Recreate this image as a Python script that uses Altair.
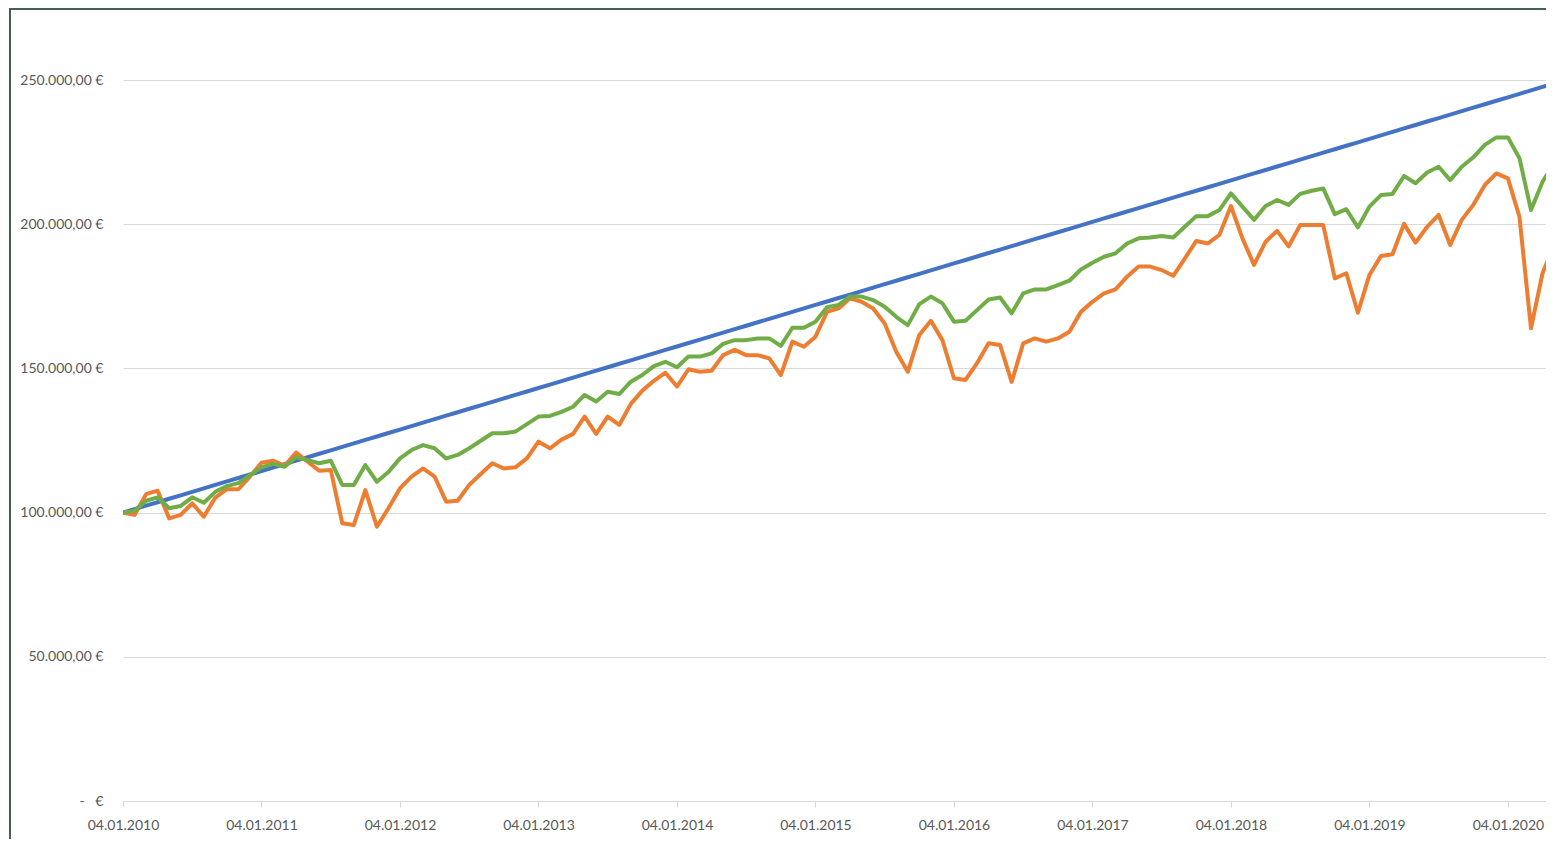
import json
import altair as alt
import pandas as pd

# month index 0 = 04.01.2010, monthly steps
blue_k = [
    100.0, 101.2, 102.4, 103.6, 104.8, 106.0, 107.2, 108.4, 109.6, 110.8,
    112.0, 113.2, 114.4, 115.6, 116.8, 118.0, 119.2, 120.4, 121.6, 122.8,
    124.0, 125.2, 126.4, 127.6, 128.8, 130.0, 131.2, 132.4, 133.6, 134.8,
    136.0, 137.2, 138.4, 139.6, 140.8, 142.0, 143.2, 144.4, 145.6, 146.8,
    148.0, 149.2, 150.4, 151.6, 152.8, 154.0, 155.2, 156.4, 157.6, 158.8,
    160.0, 161.2, 162.4, 163.6, 164.8, 166.0, 167.2, 168.4, 169.6, 170.8,
    172.0, 173.2, 174.4, 175.6, 176.8, 178.0, 179.2, 180.4, 181.6, 182.8,
    184.0, 185.2, 186.4, 187.6, 188.8, 190.0, 191.2, 192.4, 193.6, 194.8,
    196.0, 197.2, 198.4, 199.6, 200.8, 202.0, 203.2, 204.4, 205.6, 206.8,
    208.0, 209.2, 210.4, 211.6, 212.8, 214.0, 215.2, 216.4, 217.6, 218.8,
    220.0, 221.2, 222.4, 223.6, 224.8, 226.0, 227.2, 228.4, 229.6, 230.8,
    232.0, 233.2, 234.4, 235.6, 236.8, 238.0, 239.2, 240.4, 241.6, 242.8,
    244.0, 245.2, 246.4, 247.6, 248.8,
]

orange_k = [
    100.0, 99.2, 106.4, 107.6, 98.0, 99.2, 103.2, 98.6, 105.2, 108.1,
    108.1, 112.5, 117.3, 118.0, 116.2, 120.8, 117.7, 114.5, 114.8, 96.3,
    95.7, 107.8, 95.1, 101.5, 108.4, 112.5, 115.3, 112.5, 103.8, 104.1,
    109.6, 113.4, 117.1, 115.3, 115.7, 118.8, 124.6, 122.3, 125.3, 127.3,
    133.3, 127.3, 133.3, 130.4, 137.7, 142.3, 145.7, 148.5, 143.7, 149.7,
    148.8, 149.2, 154.6, 156.4, 154.6, 154.6, 153.5, 147.7, 159.3, 157.5,
    161.0, 169.6, 170.8, 174.3, 173.1, 170.8, 165.6, 155.8, 148.8, 161.6,
    166.5, 159.8, 146.6, 146.0, 151.8, 158.7, 158.1, 145.3, 158.7, 160.4,
    159.3, 160.4, 162.7, 169.6, 173.1, 176.0, 177.4, 181.8, 185.3, 185.3,
    184.1, 182.1, 188.1, 194.2, 193.3, 196.3, 206.3, 195.1, 185.9, 193.9,
    197.7, 192.3, 199.7, 199.7, 199.7, 181.2, 183.0, 169.3, 182.4, 189.0,
    189.6, 200.1, 193.6, 199.1, 203.2, 192.8, 201.5, 206.7, 213.6, 217.6,
    215.9, 202.6, 163.9, 183.0, 192.8,
]

green_k = [
    100.0, 100.6, 104.1, 105.3, 101.5, 102.3, 105.3, 103.4, 107.2, 109.2,
    110.2, 113.0, 115.7, 116.9, 115.9, 119.2, 118.2, 117.1, 118.0, 109.6,
    109.6, 116.5, 110.7, 114.1, 118.8, 121.7, 123.4, 122.3, 118.8, 120.0,
    122.3, 124.9, 127.5, 127.5, 128.1, 130.7, 133.3, 133.5, 134.9, 136.7,
    140.8, 138.5, 141.9, 141.1, 145.4, 147.7, 150.8, 152.3, 150.4, 154.1,
    154.1, 155.2, 158.5, 159.8, 159.8, 160.4, 160.4, 157.8, 164.1, 164.1,
    166.2, 171.2, 172.0, 174.9, 174.9, 173.7, 171.4, 167.9, 165.0, 172.3,
    174.9, 172.6, 166.2, 166.5, 170.2, 173.9, 174.6, 169.1, 176.0, 177.4,
    177.4, 178.9, 180.4, 184.3, 186.6, 188.7, 189.9, 193.3, 195.1, 195.4,
    195.9, 195.4, 199.1, 202.8, 202.8, 204.9, 210.7, 206.1, 201.5, 206.3,
    208.4, 206.7, 210.5, 211.6, 212.4, 203.5, 205.2, 198.9, 206.1, 210.1,
    210.5, 216.7, 214.2, 217.9, 219.9, 215.3, 219.9, 223.2, 227.5, 230.1,
    230.1, 222.9, 204.9, 214.7, 221.1,
]

series_names = ["Einzahlungen", "Depot A", "Depot B"]
series_colors = ["#4472C4", "#ED7D31", "#70AD47"]

x_tick_values = [0, 12, 24, 36, 48, 60, 72, 84, 96, 108, 120]
x_tick_labels = ["04.01.2010", "04.01.2011", "04.01.2012", "04.01.2013",
                 "04.01.2014", "04.01.2015", "04.01.2016", "04.01.2017",
                 "04.01.2018", "04.01.2019", "04.01.2020"]

y_tick_values = [0, 50000, 100000, 150000, 200000, 250000]
y_tick_labels = ["-\u00a0\u00a0\u00a0€", "50.000,00 €", "100.000,00 €",
                 "150.000,00 €", "200.000,00 €", "250.000,00 €"]

rows = []
for name, vals in zip(series_names, [blue_k, orange_k, green_k]):
    for i, v in enumerate(vals):
        rows.append({"idx": i, "value": v * 1000, "series": name})
df = pd.DataFrame(rows)

FONT = "Lato"
LABEL_COLOR = "#595959"
GRID = "#d9d9d9"
FRAME = "#44604f"

x_label_expr = json.dumps(x_tick_labels) + "[round(datum.value / 12)]"
y_label_expr = json.dumps(y_tick_labels, ensure_ascii=False) + "[round(datum.value / 50000)]"

color_scale = alt.Scale(domain=series_names, range=series_colors)

x_enc = alt.X(
    "idx:Q",
    scale=alt.Scale(domain=[0, 123.3], nice=False, zero=False),
    axis=alt.Axis(
        values=x_tick_values, labelExpr=x_label_expr, grid=False,
        domainColor=GRID, domainWidth=1, tickColor=GRID, tickSize=6,
        labelPadding=11, labelFont=FONT, labelFontSize=14, labelColor=LABEL_COLOR,
        labelFlush=False, labelOverlap=False, title=None,
    ),
)
y_enc = alt.Y(
    "value:Q",
    scale=alt.Scale(domain=[0, 250000], nice=False, zero=True),
    axis=alt.Axis(
        values=y_tick_values, labelExpr=y_label_expr, grid=True,
        gridColor=GRID, gridWidth=1, domain=False, ticks=False,
        labelPadding=20, labelFont=FONT, labelFontSize=14, labelColor=LABEL_COLOR,
        title=None,
    ),
)

layers = []
for name in series_names:
    layers.append(
        alt.Chart(df)
        .transform_filter(alt.datum.series == name)
        .mark_line(strokeWidth=4, strokeJoin="round", strokeCap="round", clip=True)
        .encode(x=x_enc, y=y_enc,
                color=alt.Color("series:N", scale=color_scale, legend=None))
    )

frame_df = pd.DataFrame({"k": [0]})
frame_left = alt.Chart(frame_df).mark_rule(color=FRAME, strokeWidth=2).encode(
    x=alt.value(-113), y=alt.value(-72), y2=alt.value(845)
)
frame_top = alt.Chart(frame_df).mark_rule(color=FRAME, strokeWidth=2).encode(
    x=alt.value(-114), x2=alt.value(1430), y=alt.value(-71)
)

chart = alt.layer(*layers, frame_left, frame_top).properties(
    width=1423,
    height=721,
    autosize=alt.AutoSizeParams(type="none"),
    padding={"left": 115, "top": 72, "right": 0, "bottom": 38},
    background="white",
).configure_view(stroke=None)

chart.save("out.html", embed_options={"renderer": "svg", "actions": False})
